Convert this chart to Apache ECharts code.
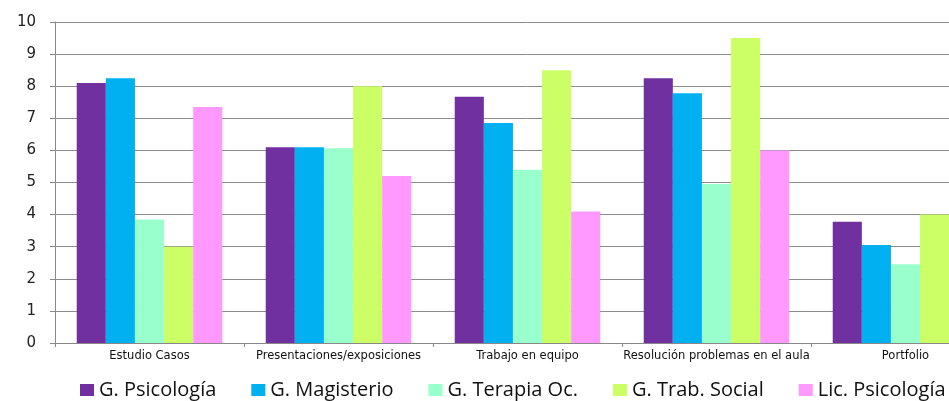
<!DOCTYPE html>
<html><head><meta charset="utf-8">
<script src="https://cdn.jsdelivr.net/npm/echarts@6/dist/echarts.min.js"></script>
<style>html,body{margin:0;padding:0;background:#fff;overflow:hidden;width:949px;height:401px}#c{width:1000px;height:401px}</style>
</head><body><div id="c"></div>
<script>
const categories = ["Estudio Casos","Presentaciones/exposiciones","Trabajo en equipo","Resolución problemas en el aula","Portfolio"];
const seriesNames = ["G. Psicología","G. Magisterio","G. Terapia Oc.","G. Trab. Social","Lic. Psicología"];
const gPsicologia = [8.1, 6.1, 7.67, 8.25, 3.78];
const gMagisterio = [8.25, 6.1, 6.85, 7.78, 3.05];
const gTerapiaOc = [3.85, 6.07, 5.4, 4.95, 2.45];
const gTrabSocial = [3.0, 8.0, 8.5, 9.5, 4.0];
const licPsicologia = [7.35, 5.2, 4.1, 6.0, 3.5];
const yTicks = [0,1,2,3,4,5,6,7,8,9,10];
const colors = ["#7030A0","#00B0F0","#99FFCC","#CCFF66","#FF99FF"];
const allData = [gPsicologia,gMagisterio,gTerapiaOc,gTrabSocial,licPsicologia];

const chart = echarts.init(document.getElementById('c'));
chart.setOption({
  animation:false,
  color: colors,
  grid:{left:55, top:22, right:0, height:321, containLabel:false},
  legend:{
    data: seriesNames,
    left:75, top:375,
    itemWidth:14, itemHeight:12, itemGap:35,
    icon:'rect',
    textStyle:{fontFamily:'Open Sans', fontSize:20, color:'#111'}
  },
  xAxis:{
    type:'category', data:categories,
    axisLine:{lineStyle:{color:'#888'}},
    axisTick:{show:true, length:4, lineStyle:{color:'#888'}},
    axisLabel:{fontFamily:'DejaVu Sans', fontSize:11.5, color:'#111', margin:7, interval:0}
  },
  yAxis:{
    type:'value', min:0, max:10, interval:1,
    axisLine:{show:true, lineStyle:{color:'#888'}},
    axisTick:{show:true, length:5, lineStyle:{color:'#888'}},
    axisLabel:{fontFamily:'DejaVu Sans', fontSize:15, color:'#222', margin:19,
      formatter: v => yTicks.includes(v) ? String(v) : ''},
    splitLine:{lineStyle:{color:'#8c8c8c', width:1}}
  },
  series: seriesNames.map((n,i)=>({
    name:n, type:'bar', data:allData[i],
    barGap:'0%', barCategoryGap:'23%',
    itemStyle:{color:colors[i]}
  }))
});
</script></body></html>
